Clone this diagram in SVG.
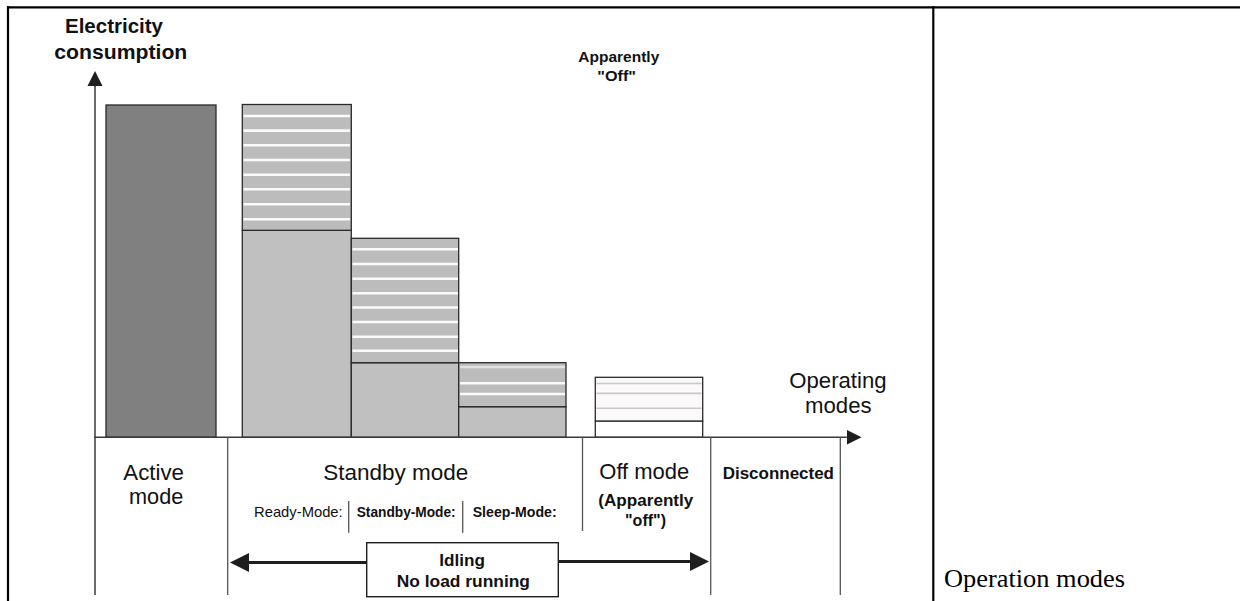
<svg xmlns="http://www.w3.org/2000/svg" width="1242" height="601" viewBox="0 0 1242 601">
  <style>
    .frame { stroke: #000; stroke-width: 2.2; fill: none; }
    .axis { stroke: #3a3a3a; stroke-width: 1.5; fill: none; }
    .divider { stroke: #555; stroke-width: 1.3; fill: none; }
    .idle { stroke: #1e1e1e; stroke-width: 3; fill: none; }
    .bar { stroke: #2a2a2a; stroke-width: 1.3; }
    .dark { fill: #808080; }
    .mid { fill: #c0c0c0; }
    .hatch { fill: #bcbcbc; }
    .pale { fill: #fcf9fb; }
    .stripe { stroke: #fafafa; stroke-width: 2.6; }
    .stripe-faint { stroke: #c8c8c8; stroke-width: 1.6; }
    text { font-family: "Liberation Sans", Arial, sans-serif; fill: #111; }
    .big { font-size: 22px; }
    .bold { font-weight: bold; }
    .serif { font-family: "Liberation Serif", "Times New Roman", serif; font-size: 26px; fill: #000; }
  </style>
  <defs>
    <marker id="axisHead" viewBox="0 0 10 10" refX="0" refY="5" markerUnits="userSpaceOnUse" markerWidth="15" markerHeight="18" orient="auto">
      <path d="M0,0 L10,5 L0,10 z" fill="#1e1e1e"/>
    </marker>
    <marker id="idleHead" viewBox="0 0 10 10" refX="0" refY="5" markerUnits="userSpaceOnUse" markerWidth="19" markerHeight="22" orient="auto">
      <path d="M0,0 L10,5 L0,10 z" fill="#1e1e1e"/>
    </marker>
  </defs>

  <rect width="1242" height="601" fill="#fff"/>

  <!-- table cell frame -->
  <g id="frame">
    <line class="frame" x1="7" y1="7.3" x2="1240" y2="7.3"/>
    <line class="frame" x1="8" y1="6.2" x2="8" y2="601"/>
    <line class="frame" x1="933.3" y1="6.2" x2="933.3" y2="601"/>
  </g>

  <!-- consumption bars -->
  <g id="bar-active">
    <rect class="bar dark" x="106" y="105" width="110" height="332.3"/>
  </g>

  <g id="bar-ready">
    <rect class="bar mid" x="242.3" y="230.3" width="109" height="207"/>
    <rect class="hatch" x="242.3" y="104.5" width="109" height="125.8"/>
    <g class="stripe">
      <line x1="243.5" y1="116" x2="350" y2="116"/>
      <line x1="243.5" y1="130.6" x2="350" y2="130.6"/>
      <line x1="243.5" y1="145.3" x2="350" y2="145.3"/>
      <line x1="243.5" y1="160" x2="350" y2="160"/>
      <line x1="243.5" y1="174.7" x2="350" y2="174.7"/>
      <line x1="243.5" y1="189.3" x2="350" y2="189.3"/>
      <line x1="243.5" y1="204.2" x2="350" y2="204.2"/>
      <line x1="243.5" y1="219.2" x2="350" y2="219.2"/>
    </g>
    <rect class="bar" fill="none" x="242.3" y="104.5" width="109" height="125.8"/>
  </g>

  <g id="bar-standby">
    <rect class="bar mid" x="351.3" y="362.7" width="107.4" height="74.6"/>
    <rect class="hatch" x="351.3" y="238.3" width="107.4" height="124.4"/>
    <g class="stripe">
      <line x1="352.5" y1="249.3" x2="458" y2="249.3"/>
      <line x1="352.5" y1="264" x2="458" y2="264"/>
      <line x1="352.5" y1="278.7" x2="458" y2="278.7"/>
      <line x1="352.5" y1="293.3" x2="458" y2="293.3"/>
      <line x1="352.5" y1="307.5" x2="458" y2="307.5"/>
      <line x1="352.5" y1="322" x2="458" y2="322"/>
      <line x1="352.5" y1="336.7" x2="458" y2="336.7"/>
      <line x1="352.5" y1="350.7" x2="458" y2="350.7"/>
    </g>
    <rect class="bar" fill="none" x="351.3" y="238.3" width="107.4" height="124.4"/>
  </g>

  <g id="bar-sleep">
    <rect class="bar mid" x="458.7" y="406.7" width="107.3" height="30.6"/>
    <rect class="hatch" x="458.7" y="362.7" width="107.3" height="44"/>
    <line class="stripe" x1="460" y1="367" x2="565" y2="367" stroke-width="1.5" opacity="0.6"/>
    <line class="stripe" x1="460" y1="383.3" x2="565" y2="383.3" stroke-width="4.5"/>
    <line class="stripe" x1="460" y1="394" x2="565" y2="394" stroke-width="2.5"/>
    <rect class="bar" fill="none" x="458.7" y="362.7" width="107.3" height="44"/>
  </g>

  <g id="bar-off">
    <rect class="bar" fill="#fff" x="595.3" y="421" width="107.4" height="16.3"/>
    <rect class="pale" x="595.3" y="377.3" width="107.4" height="43.7"/>
    <line class="stripe-faint" x1="596.5" y1="383.5" x2="701.5" y2="383.5" stroke="#e2dfe1" stroke-width="2"/>
    <line class="stripe-faint" x1="596.5" y1="393.4" x2="701.5" y2="393.4" stroke="#b9b7b8" stroke-width="2.2"/>
    <line class="stripe-faint" x1="596.5" y1="408.2" x2="701.5" y2="408.2"/>
    <rect class="bar" fill="none" x="595.3" y="377.3" width="107.4" height="43.7"/>
  </g>

  <!-- axes, mode boundaries and idling arrows -->
  <g id="connectors">
    <line class="axis" x1="95" y1="595" x2="95" y2="86"/>
    <line class="axis" marker-end="url(#axisHead)" x1="95" y1="86.5" x2="95" y2="86"/>
    <line class="axis" x1="94.3" y1="437.3" x2="846.5" y2="437.3"/>
    <line class="axis" marker-end="url(#axisHead)" x1="846" y1="437.3" x2="846.5" y2="437.3"/>

    <line class="divider" x1="227.7" y1="437.3" x2="227.7" y2="595"/>
    <line class="divider" x1="582.5" y1="437.3" x2="582.5" y2="531"/>
    <line class="divider" x1="710.7" y1="437.3" x2="710.7" y2="595"/>
    <line class="divider" x1="840.3" y1="437.3" x2="840.3" y2="595"/>
    <line class="divider" x1="348.7" y1="501" x2="348.7" y2="532.7"/>
    <line class="divider" x1="462.7" y1="501" x2="462.7" y2="532.7"/>

    <line class="idle" marker-end="url(#idleHead)" x1="366.7" y1="562.5" x2="249" y2="562.5"/>
    <line class="idle" marker-end="url(#idleHead)" x1="558.3" y1="561.5" x2="690" y2="561.5"/>
  </g>

  <!-- axis titles -->
  <g id="label-consumption">
    <text class="bold" x="65" y="33.3" font-size="20.5" textLength="98" lengthAdjust="spacingAndGlyphs">Electricity</text>
    <text class="bold" x="54.3" y="59.3" font-size="20.5" textLength="133" lengthAdjust="spacingAndGlyphs">consumption</text>
  </g>
  <g id="label-apparently-off">
    <text class="bold" x="578.3" y="61.7" font-size="15.5" textLength="81" lengthAdjust="spacingAndGlyphs">Apparently</text>
    <text class="bold" x="597.3" y="80.7" font-size="15.5" textLength="38.7" lengthAdjust="spacingAndGlyphs">"Off"</text>
  </g>
  <g id="label-operating-modes">
    <text class="big" x="789.3" y="388.3" textLength="97.3" lengthAdjust="spacingAndGlyphs">Operating</text>
    <text class="big" x="805" y="412.7" textLength="66.7" lengthAdjust="spacingAndGlyphs">modes</text>
  </g>

  <!-- mode labels -->
  <g id="mode-active">
    <text class="big" x="123.3" y="480" textLength="60.7" lengthAdjust="spacingAndGlyphs">Active</text>
    <text class="big" x="129" y="504.3" textLength="54.3" lengthAdjust="spacingAndGlyphs">mode</text>
  </g>
  <g id="mode-standby">
    <text class="big" x="323.3" y="480" textLength="145" lengthAdjust="spacingAndGlyphs">Standby mode</text>
    <text x="254" y="516.7" font-size="14.5" textLength="88.7" lengthAdjust="spacingAndGlyphs">Ready-Mode:</text>
    <text class="bold" x="356.7" y="516.7" font-size="14" textLength="99" lengthAdjust="spacingAndGlyphs">Standby-Mode:</text>
    <text class="bold" x="472.7" y="516.7" font-size="14" textLength="84" lengthAdjust="spacingAndGlyphs">Sleep-Mode:</text>
  </g>
  <g id="mode-off">
    <text class="big" x="599.3" y="479.3" textLength="90" lengthAdjust="spacingAndGlyphs">Off mode</text>
    <text class="bold" x="598.3" y="506" font-size="16" textLength="95" lengthAdjust="spacingAndGlyphs">(Apparently</text>
    <text class="bold" x="625" y="526" font-size="16" textLength="41" lengthAdjust="spacingAndGlyphs">"off")</text>
  </g>
  <g id="mode-disconnected">
    <text class="bold" x="722.7" y="479.3" font-size="16" textLength="111.3" lengthAdjust="spacingAndGlyphs">Disconnected</text>
  </g>
  <g id="idling-box">
    <rect x="366.7" y="542.7" width="191.6" height="54" fill="#fff" stroke="#1e1e1e" stroke-width="1.4"/>
    <text class="bold" x="439.3" y="566" font-size="17" textLength="45.7" lengthAdjust="spacingAndGlyphs">Idling</text>
    <text class="bold" x="396.7" y="586.7" font-size="17" textLength="133.3" lengthAdjust="spacingAndGlyphs">No load running</text>
  </g>

  <!-- caption -->
  <g id="caption">
    <text class="serif" x="944" y="586.7" textLength="181" lengthAdjust="spacingAndGlyphs">Operation modes</text>
  </g>
</svg>
